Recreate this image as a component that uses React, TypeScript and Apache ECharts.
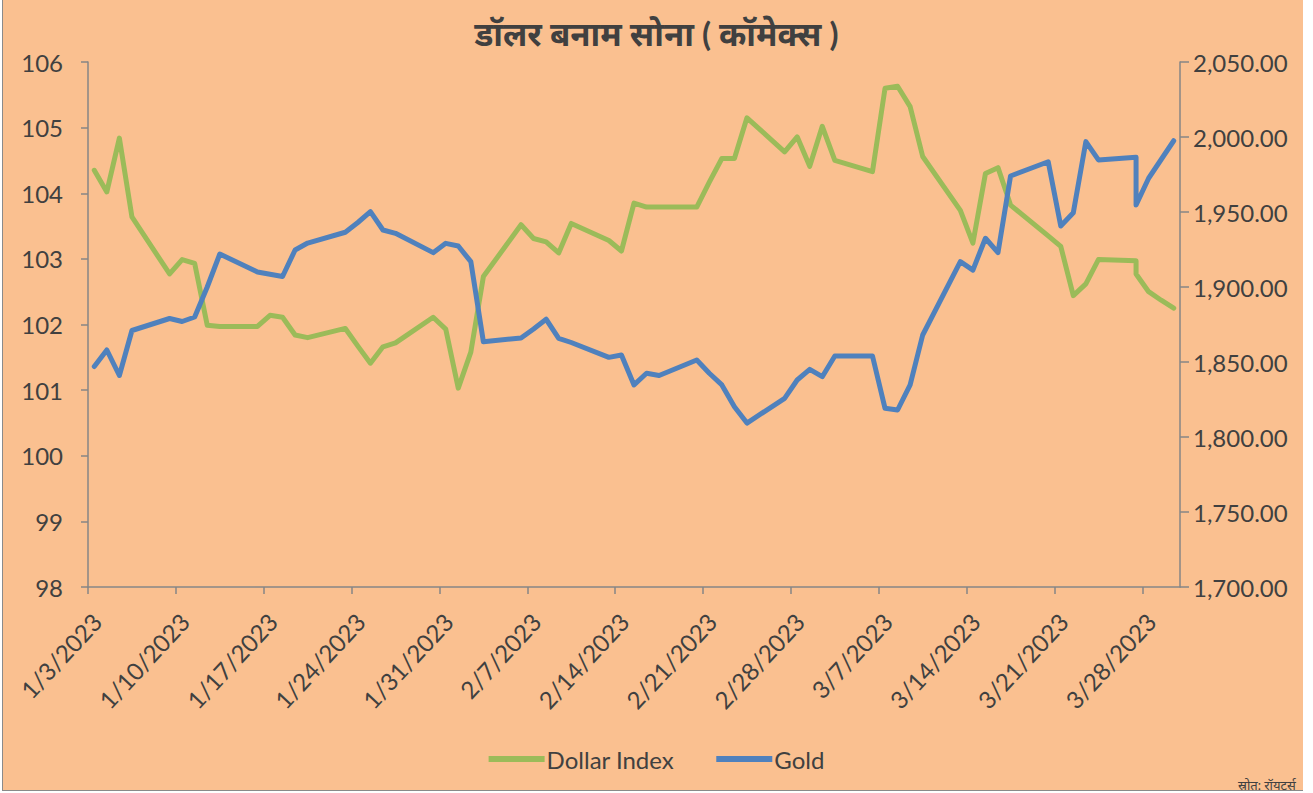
import React, { useEffect, useRef } from "react";
import * as echarts from "echarts";

const titleText = "डॉलर बनाम सोना ( कॉमेक्स )";
const sourceText = "स्रोत: रॉयटर्स";
const seriesNames = ["Dollar Index", "Gold"];

// trading dates (month/day, 2023)
const dates = [
  "1/3", "1/4", "1/5", "1/6", "1/9", "1/10", "1/11", "1/12", "1/13",
  "1/16", "1/17", "1/18", "1/19", "1/20", "1/23", "1/24", "1/25", "1/26", "1/27",
  "1/30", "1/31", "2/1", "2/2", "2/3", "2/6", "2/7", "2/8", "2/9", "2/10",
  "2/13", "2/14", "2/15", "2/16", "2/17", "2/20", "2/21", "2/22", "2/23", "2/24",
  "2/27", "2/28", "3/1", "3/2", "3/3", "3/6", "3/7", "3/8", "3/9", "3/10",
  "3/13", "3/14", "3/15", "3/16", "3/17", "3/20", "3/21", "3/22", "3/23", "3/24",
  "3/27", "3/27", "3/28", "3/29", "3/30",
];

const dollarIndex = [
  104.35, 104.02, 104.84, 103.64, 102.77, 102.99, 102.93, 101.99, 101.97,
  101.97, 102.14, 102.11, 101.84, 101.8, 101.94, 101.67, 101.41, 101.66, 101.72,
  102.11, 101.93, 101.03, 101.58, 102.73, 103.52, 103.31, 103.26, 103.09, 103.54,
  103.28, 103.12, 103.85, 103.79, 103.79, 103.79, 104.17, 104.53, 104.53, 105.15,
  104.63, 104.86, 104.41, 105.02, 104.5, 104.33, 105.6, 105.63, 105.32, 104.56,
  103.74, 103.24, 104.3, 104.39, 103.82, 103.35, 103.19, 102.44, 102.62, 102.99,
  102.97, 102.77, 102.5, 102.37, 102.25,
];

const gold = [
  1847, 1858, 1841, 1871, 1879, 1877, 1880, 1900, 1922,
  1910, 1908.5, 1907, 1924.7, 1929.3, 1936.5, 1943, 1950.2, 1938, 1935.8,
  1922.9, 1929.1, 1927.3, 1916.9, 1863.5, 1866, 1872, 1878.5, 1865.8, 1863,
  1853.1, 1854.7, 1834.7, 1842.5, 1841, 1851.3, 1842.5, 1834.7, 1820.2, 1809.3,
  1825.8, 1838, 1845.1, 1840.2, 1854, 1854, 1819.1, 1818, 1834.7, 1868,
  1916.9, 1911.3, 1932.5, 1922.9, 1974, 1983.5, 1940.7, 1949.5, 1996.9, 1984.7,
  1986.5, 1954.7, 1972.5, 1985, 1997.5,
];

const leftTicks = { min: 98, max: 106, interval: 1 };
const rightTicks = { min: 1700, max: 2050, interval: 50 };
const xTicks = { min: 0, max: 87, interval: 7 }; // days since 1/3/2023

const monthStart = [0, 31, 59]; // day-of-year offsets for Jan, Feb, Mar
const startDay = 3;

function dayIndex(md: string): number {
  const [m, d] = md.split("/").map(Number);
  return monthStart[m - 1] + d - startDay;
}

function dayLabel(idx: number): string {
  const doy = idx + startDay;
  let m = 0;
  for (let i = monthStart.length - 1; i >= 0; i--) {
    if (doy > monthStart[i]) { m = i; break; }
  }
  return `${m + 1}/${doy - monthStart[m]}/2023`;
}

const FONT = "Lato, 'Noto Sans', sans-serif";
const TEXT = "#404040";
const AXIS = "#868686";

export default function App() {
  const ref = useRef<HTMLDivElement>(null);

  useEffect(() => {
    if (!ref.current) return;
    const chart = echarts.init(ref.current, undefined, { renderer: "svg" });
    const xs = dates.map((d) => dayIndex(d) + 0.5);
    chart.setOption({
      animation: false,
      backgroundColor: "transparent",
      textStyle: { fontFamily: FONT },
      title: {
        text: titleText,
        left: "center",
        top: 11,
        textStyle: { fontSize: 33, fontWeight: "bold", color: TEXT, fontFamily: FONT },
      },
      legend: {
        bottom: 17,
        left: "center",
        icon: "rect",
        itemWidth: 56,
        itemHeight: 6,
        itemGap: 42,
        textStyle: { fontSize: 24, color: TEXT, fontFamily: FONT, padding: [0, 0, 0, -3] },
        data: seriesNames,
      },
      graphic: [
        {
          type: "text",
          left: 1238,
          top: 778,
          style: { text: sourceText, fontSize: 13, fill: TEXT, fontFamily: FONT },
        },
      ],
      grid: { left: 88, right: 133, top: 62, bottom: 206 },
      xAxis: {
        type: "value",
        min: xTicks.min,
        max: xTicks.max,
        interval: xTicks.interval,
        axisLine: { show: true, lineStyle: { color: AXIS, width: 1.5 } },
        axisTick: { show: true, length: 7, lineStyle: { color: AXIS, width: 1.5 } },
        splitLine: { show: false },
        axisLabel: {
          rotate: 47,
          fontSize: 24,
          color: TEXT,
          fontFamily: FONT,
          margin: 22,
          verticalAlign: "top",
          showMaxLabel: false,
          formatter: (v: number) => dayLabel(v),
        },
      },
      yAxis: [
        {
          type: "value",
          position: "left",
          min: leftTicks.min,
          max: leftTicks.max,
          interval: leftTicks.interval,
          axisLine: { show: true, lineStyle: { color: AXIS, width: 1.5 } },
          axisTick: { show: true, length: 7, lineStyle: { color: AXIS, width: 1.5 } },
          splitLine: { show: false },
          axisLabel: { fontSize: 24, color: TEXT, fontFamily: FONT, margin: 25 },
        },
        {
          type: "value",
          position: "right",
          min: rightTicks.min,
          max: rightTicks.max,
          interval: rightTicks.interval,
          axisLine: { show: true, lineStyle: { color: AXIS, width: 1.5 } },
          axisTick: { show: true, length: 9, lineStyle: { color: AXIS, width: 1.5 } },
          splitLine: { show: false },
          axisLabel: {
            fontSize: 24,
            color: TEXT,
            fontFamily: FONT,
            margin: 13,
            formatter: (v: number) =>
              v.toLocaleString("en-US", { minimumFractionDigits: 2, maximumFractionDigits: 2 }),
          },
        },
      ],
      series: [
        {
          name: seriesNames[0],
          type: "line",
          yAxisIndex: 0,
          showSymbol: false,
          symbol: "none",
          color: "#9BBB59",
          lineStyle: { width: 5, color: "#9BBB59", cap: "round", join: "round" },
          data: xs.map((x, i) => [x, dollarIndex[i]]),
        },
        {
          name: seriesNames[1],
          type: "line",
          yAxisIndex: 1,
          showSymbol: false,
          symbol: "none",
          color: "#4F81BD",
          lineStyle: { width: 5, color: "#4F81BD", cap: "round", join: "round" },
          data: xs.map((x, i) => [x, gold[i]]),
        },
      ],
    });
    return () => chart.dispose();
  }, []);

  return (
    <div style={{ position: "absolute", left: 0, top: 0, width: 1313, height: 793, background: "#fff", overflow: "hidden" }}>
      <div
        style={{
          position: "absolute",
          left: 2,
          top: 0,
          width: 1300,
          height: 790,
          background: "#FAC090",
          borderLeft: "1px solid #8a8a8a",
          borderBottom: "1px solid #8a8a8a",
        }}
      />
      <div ref={ref} style={{ position: "absolute", left: 0, top: 0, width: 1313, height: 793 }} />
    </div>
  );
}
